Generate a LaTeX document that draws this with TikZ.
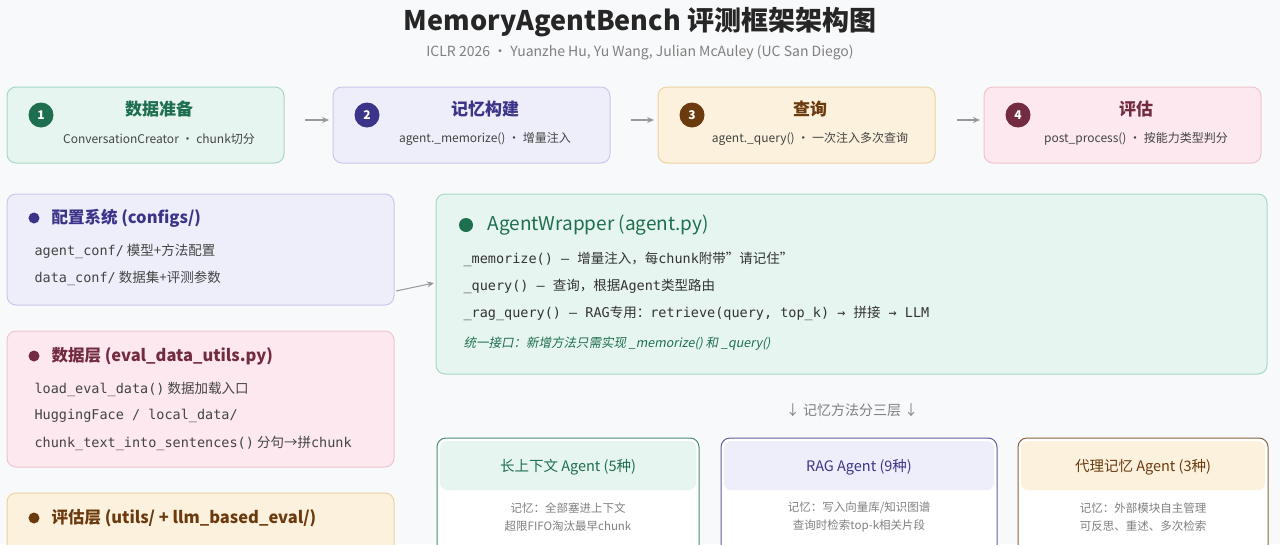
\documentclass[tikz,border=0pt]{standalone}
\usepackage{fontspec}
\usetikzlibrary{arrows.meta}
\setmainfont{Noto Sans CJK SC}
\setmonofont{DejaVu Sans Mono}
\newfontfamily\cjkit[FakeSlant=0.2]{Noto Sans CJK SC}
\begin{document}
\definecolor{gF}{HTML}{E6F5EF}\definecolor{gB}{HTML}{A8D8C4}\definecolor{gD}{HTML}{1E6E50}
\definecolor{pF}{HTML}{EEEEFB}\definecolor{pB}{HTML}{C8C8EA}\definecolor{pD}{HTML}{3C3488}
\definecolor{yF}{HTML}{FCF1DC}\definecolor{yB}{HTML}{EBD3A0}\definecolor{yD}{HTML}{6B3A0E}
\definecolor{rF}{HTML}{FCE8EE}\definecolor{rB}{HTML}{F0C4CF}\definecolor{rD}{HTML}{722B40}
\definecolor{txt}{HTML}{444444}\definecolor{bg}{HTML}{F8F9FB}
\begin{tikzpicture}[x=1pt,y=-1pt,
  box/.style={rounded corners=9pt,line width=1pt},
  num/.style={circle,inner sep=0pt,minimum size=25pt,text=white,font=\fontsize{12}{12}\selectfont\bfseries},
  stt/.style={font=\fontsize{17}{17}\selectfont\bfseries},
  sub/.style={font=\fontsize{12}{12}\selectfont,text=txt},
  code/.style={anchor=west,font=\fontsize{13.5}{14}\selectfont,text=txt},
  sec/.style={anchor=west,font=\fontsize{16.5}{17}\selectfont\bfseries},
  arr/.style={-{Stealth[length=7pt,width=6pt]},draw=gray!80,line width=1.2pt},
  dot/.style={circle,inner sep=0pt,minimum size=11pt}]
\useasboundingbox[fill=bg] (0,0) rectangle (1280,544);
\node[font=\fontsize{27}{27}\selectfont\bfseries,text=black!85] (t) at (640,22) {MemoryAgentBench 评测框架架构图};
\node[font=\fontsize{14}{14}\selectfont,text=gray] (st) at (640,53) {ICLR 2026 · Yuanzhe Hu, Yu Wang, Julian McAuley (UC San Diego)};
% steps
\foreach \i/\x/\c/\ti/\su in {1/7/g/数据准备/ConversationCreator · chunk切分,2/333/p/记忆构建/agent.\_memorize() · 增量注入,3/658/y/查询/agent.\_query() · 一次注入多次查询,4/984/r/评估/post\_process() · 按能力类型判分}{
  \draw[box,fill=\c F,draw=\c B] (\x,87) rectangle ++(277,76);
  \node[num,fill=\c D] (n\i) at (\x+34,115) {\i};
  \node[stt,text=\c D] (s\i) at (\x+152,109) {\ti};
  \node[sub] (u\i) at (\x+152,139) {\su};
}
\coordinate (a1) at (305,120);\coordinate (b1) at (329,120);
\coordinate (a2) at (631,120);\coordinate (b2) at (654,120);
\coordinate (a3) at (957,120);\coordinate (b3) at (980,120);
\foreach \i in {1,2,3}{\draw[arr] (a\i) -- (b\i);}
% left column
\draw[box,fill=pF,draw=pB] (7,194) rectangle (394,305);
\node[dot,fill=pD] (d1) at (34,218) {};
\node[sec,text=pD] (c1) at (48,218) {配置系统 (configs/)};
\node[code] (c1a) at (31,251) {\texttt{agent\_conf/} 模型+方法配置};
\node[code] (c1b) at (31,278) {\texttt{data\_conf/} 数据集+评测参数};
\draw[box,fill=rF,draw=rB] (7,331) rectangle (394,467);
\node[dot,fill=rD] (d2) at (34,356) {};
\node[sec,text=rD] (c2) at (48,356) {数据层 (eval\_data\_utils.py)};
\node[code] (c2a) at (31,389) {\texttt{load\_eval\_data()} 数据加载入口};
\node[code] (c2b) at (31,416) {\texttt{HuggingFace / local\_data/}};
\node[code] (c2c) at (31,443) {\texttt{chunk\_text\_into\_sentences()} 分句→拼\texttt{chunk}};
\draw[box,fill=yF,draw=yB] (7,493) rectangle (394,570);
\node[dot,fill=yD] (d3) at (34,518) {};
\node[sec,text=yD] (c3) at (48,518) {评估层 (utils/ + llm\_based\_eval/)};
% agent wrapper
\draw[box,fill=gF,draw=gB] (436,194) rectangle (1267,374);
\node[dot,fill=gD,minimum size=14pt] (d4) at (466,225) {};
\node[anchor=west,font=\fontsize{19}{19}\selectfont,text=gD] (aw) at (484,225) {AgentWrapper (agent.py)};
\node[code,text=black!80] (w1) at (460,259) {\texttt{\_memorize() — }增量注入，每\texttt{chunk}附带"请记住"};
\node[code,text=black!80] (w2) at (460,286) {\texttt{\_query() — }查询，根据\texttt{Agent}类型路由};
\node[code,text=black!80] (w3) at (460,313) {\texttt{\_rag\_query() — RAG}专用：\texttt{retrieve(query, top\_k) → }拼接\texttt{ → LLM}};
\node[code,text=gD,font=\fontsize{12.5}{13}\selectfont\cjkit] (w4) at (460,344) {统一接口：新增方法只需实现 \_memorize() 和 \_query()};
\coordinate (cf) at (396,291);
\draw[arr,line width=1pt] (cf) -- (434,283);
\node[font=\fontsize{14}{14}\selectfont,text=gray] (lay) at (852,410) {↓ 记忆方法分三层 ↓};
% bottom boxes
\foreach \n/\x/\w/\c/\ti/\la/\lb in {
 L/437/262/g/长上下文 Agent (5种)/记忆：全部塞进上下文/超限FIFO淘汰最早chunk,
 R/721/276/p/RAG Agent (9种)/{记忆：写入向量库/知识图谱}/查询时检索top-k相关片段,
 A/1018/250/y/代理记忆 Agent (3种)/记忆：外部模块自主管理/可反思、重述、多次检索}{
  \draw[box,fill=white,draw=\c D!80] (\x,438) rectangle ++(\w,130);
  \fill[\c F,rounded corners=7pt] (\x+3,441) rectangle ++(\w-6,49);
  \node[font=\fontsize{14.5}{15}\selectfont,text=\c D] (h\n) at (\x+\w/2,467) {\ti};
  \node[font=\fontsize{11.5}{12}\selectfont,text=gray] (p\n) at (\x+\w/2,508) {\la};
  \node[font=\fontsize{11.5}{12}\selectfont,text=gray] (q\n) at (\x+\w/2,526) {\lb};
}
\end{tikzpicture}
\end{document}
